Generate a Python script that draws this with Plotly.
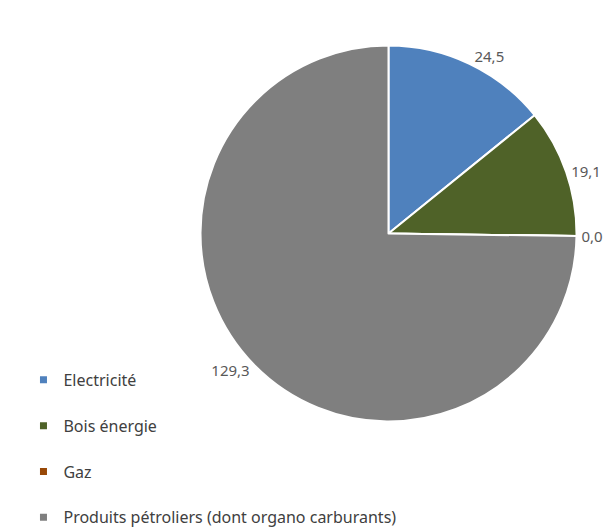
import plotly.graph_objects as go

# Consommation d'énergie par type
labels = ["Electricité", "Bois énergie", "Gaz", "Produits pétroliers (dont organo carburants)"]
values = [24.5, 19.1, 0.0, 129.3]
colors = ["#4F81BD", "#4F6228", "#984807", "#7F7F7F"]

fig = go.Figure()

fig.add_trace(go.Pie(
    labels=labels,
    values=values,
    sort=False,
    direction="clockwise",
    rotation=0,
    marker=dict(colors=colors, line=dict(color="white", width=2)),
    texttemplate="%{value:.1f}",
    textposition="outside",
    textfont=dict(family="Noto Sans", size=15, color="#595959"),
    showlegend=False,
    hoverinfo="label+value",
    domain=dict(x=[0.3135, 0.9259], y=[0.2169, 0.9290]),
))

# Legend entries (one group each to get Excel-like spacing)
for name, color in zip(labels, colors):
    fig.add_trace(go.Scatter(
        x=[None], y=[None],
        mode="markers",
        name=name,
        legendgroup=name,
        marker=dict(symbol="square", size=7, color=color),
        hoverinfo="skip",
    ))

fig.update_layout(
    width=614,
    height=528,
    margin=dict(l=0, r=0, t=0, b=0, autoexpand=False),
    paper_bgcolor="white",
    plot_bgcolor="white",
    separators=", ",
    xaxis=dict(visible=False),
    yaxis=dict(visible=False),
    legend=dict(
        x=0.0252, y=0.002, xanchor="left", yanchor="bottom",
        font=dict(family="Noto Sans", size=16, color="#404040"),
        tracegroupgap=22,
        bgcolor="rgba(0,0,0,0)",
    ),
)

fig.write_html("out.html")
